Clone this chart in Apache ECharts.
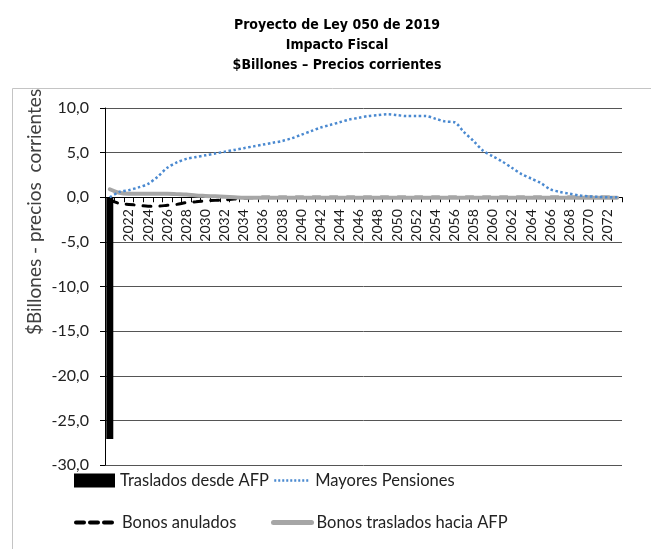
<!DOCTYPE html>
<html>
<head>
<meta charset="utf-8">
<script src="https://cdn.jsdelivr.net/npm/echarts@6/dist/echarts.min.js"></script>
<style>
  html, body { margin: 0; padding: 0; background: #fff; }
  #chart { width: 651px; height: 549px; }
</style>
</head>
<body>
<div id="chart"></div>
<script>
// years on the category axis
const years = [
  '2020', '2021', '2022', '2023', '2024', '2025', '2026', '2027', '2028', '2029',
  '2030', '2031', '2032', '2033', '2034', '2035', '2036', '2037', '2038', '2039',
  '2040', '2041', '2042', '2043', '2044', '2045', '2046', '2047', '2048', '2049',
  '2050', '2051', '2052', '2053', '2054', '2055', '2056', '2057', '2058', '2059',
  '2060', '2061', '2062', '2063', '2064', '2065', '2066', '2067', '2068', '2069',
  '2070', '2071', '2072', '2073'
];

// $ billones
const trasladosDesdeAFP = [
  -27.1, null, null, null, null, null, null, null, null, null,
  null, null, null, null, null, null, null, null, null, null,
  null, null, null, null, null, null, null, null, null, null,
  null, null, null, null, null, null, null, null, null, null,
  null, null, null, null, null, null, null, null, null, null,
  null, null, null, null
];

const mayoresPensiones = [
  0.0, 0.6, 0.8, 1.1, 1.5, 2.3, 3.3, 3.9, 4.3, 4.5,
  4.7, 4.9, 5.1, 5.3, 5.5, 5.7, 5.9, 6.1, 6.3, 6.6,
  7.0, 7.4, 7.8, 8.1, 8.4, 8.7, 8.9, 9.1, 9.2, 9.3,
  9.2, 9.1, 9.1, 9.1, 8.8, 8.5, 8.4, 7.3, 6.3, 5.2,
  4.6, 4.0, 3.3, 2.6, 2.1, 1.6, 0.9, 0.6, 0.4, 0.2,
  0.1, 0.05, 0.0, 0.0
];

const bonosAnulados = [
  -0.3, -0.7, -0.8, -0.9, -1.0, -1.0, -0.9, -0.8, -0.6, -0.5,
  -0.4, -0.35, -0.3, -0.2, -0.1, -0.05, 0, 0, 0, 0,
  0, 0, 0, 0, 0, 0, 0, 0, 0, 0,
  0, 0, 0, 0, 0, 0, 0, 0, 0, 0,
  0, 0, 0, 0, 0, 0, 0, 0, 0, 0,
  0, 0, 0, 0
];

const bonosTrasladosAFP = [
  0.9, 0.5, 0.4, 0.4, 0.4, 0.4, 0.4, 0.35, 0.3, 0.2,
  0.15, 0.1, 0.05, 0.0, -0.05, -0.05, -0.05, -0.05, -0.05, -0.05,
  -0.05, -0.05, -0.05, -0.05, -0.05, -0.05, -0.05, -0.05, -0.05, -0.05,
  -0.05, -0.05, -0.05, -0.05, -0.05, -0.05, -0.05, -0.05, -0.05, -0.05,
  -0.05, -0.05, -0.05, -0.05, -0.05, -0.05, -0.05, -0.05, -0.05, -0.05,
  -0.05, -0.05, -0.05, -0.05
];

const yTicks = { min: -30, max: 10, interval: 5 };

const FONT = 'Lato, "Open Sans", sans-serif';
const TITLE_FONT = '"Liberation Sans Narrow", "DejaVu Sans Condensed", "Liberation Sans", sans-serif';

const GRID = { left: 105, right: 29, top: 108, bottom: 84 };
const gridHeight = 549 - GRID.top - GRID.bottom;
// move the category axis up to the zero line
const zeroOffset = -gridHeight * (0 - yTicks.min) / (yTicks.max - yTicks.min);

const chart = echarts.init(document.getElementById('chart'), null, { renderer: 'canvas' });

const legendBase = {
  orient: 'horizontal',
  padding: 0,
  itemWidth: 41,
  itemHeight: 14,
  textStyle: { fontFamily: FONT, fontSize: 16.5, color: '#222' },
  selectedMode: false
};
const hideSymbol = { opacity: 0 };

chart.setOption({
  animation: false,
  backgroundColor: '#fff',
  title: {
    text: 'Proyecto de Ley 050 de 2019\nImpacto Fiscal\n$Billones – Precios corrientes',
    left: 332,
    top: 10,
    textAlign: 'center',
    textStyle: {
      fontFamily: TITLE_FONT,
      fontWeight: 'bold',
      fontSize: 14,
      lineHeight: 20,
      color: '#000'
    }
  },
  graphic: [
    {
      type: 'rect',
      silent: true,
      shape: { x: 12.5, y: 88.5, width: 700, height: 500 },
      style: { fill: 'none', stroke: '#c4c4c4', lineWidth: 1 }
    },
    {
      type: 'text',
      silent: true,
      x: 35,
      y: 212,
      rotation: Math.PI / 2,
      style: {
        text: '$Billones - precios  corrientes',
        font: '19px ' + FONT,
        fill: '#404040',
        align: 'center',
        verticalAlign: 'middle'
      }
    }
  ],
  legend: [
    Object.assign({}, legendBase, {
      left: 74, top: 472,
      data: [{ name: 'Traslados desde AFP', icon: 'rect' }]
    }),
    Object.assign({}, legendBase, {
      left: 273, top: 472,
      itemWidth: 36,
      itemStyle: hideSymbol,
      lineStyle: { width: 2.5, type: [2, 2] },
      data: ['Mayores Pensiones']
    }),
    Object.assign({}, legendBase, {
      left: 74, top: 514,
      itemStyle: hideSymbol,
      lineStyle: { width: 4, type: [8, 6], cap: 'round' },
      data: ['Bonos anulados']
    }),
    Object.assign({}, legendBase, {
      left: 271, top: 514,
      itemWidth: 38,
      itemStyle: hideSymbol,
      lineStyle: { width: 5, cap: 'round' },
      data: ['Bonos traslados hacia AFP']
    })
  ],
  grid: Object.assign({ containLabel: false }, GRID),
  xAxis: {
    type: 'category',
    data: years,
    boundaryGap: true,
    position: 'bottom',
    offset: zeroOffset,
    axisLine: { onZero: false, lineStyle: { color: '#000', width: 1 } },
    axisTick: { show: true, interval: 0, length: 5, inside: false, lineStyle: { color: '#000' } },
    axisLabel: {
      // first label sits under the big bar
      interval: (i) => i > 0 && i % 2 === 0,
      rotate: 90,
      margin: 12,
      fontFamily: FONT,
      fontSize: 14,
      color: '#1a1a1a'
    },
    splitLine: { show: false }
  },
  yAxis: {
    type: 'value',
    min: yTicks.min,
    max: yTicks.max,
    interval: yTicks.interval,
    axisLine: { show: true, lineStyle: { color: '#000', width: 1 } },
    axisTick: { show: true, length: 5, lineStyle: { color: '#000' } },
    axisLabel: {
      margin: 16,
      fontFamily: FONT,
      fontSize: 16,
      color: '#222',
      formatter: v => v.toFixed(1).replace('.', ',')
    },
    splitLine: { show: true, lineStyle: { color: '#555', width: 1 } }
  },
  series: [
    {
      name: 'Traslados desde AFP',
      type: 'bar',
      data: trasladosDesdeAFP,
      barWidth: 7,
      itemStyle: { color: '#000' },
      z: 2
    },
    {
      name: 'Bonos anulados',
      type: 'line',
      data: bonosAnulados,
      symbol: 'none',
      smooth: 0.3,
      lineStyle: { color: '#000', width: 3, type: [8, 9], cap: 'round' },
      itemStyle: { color: '#000' },
      z: 3
    },
    {
      name: 'Bonos traslados hacia AFP',
      type: 'line',
      data: bonosTrasladosAFP,
      symbol: 'none',
      smooth: 0.3,
      lineStyle: { color: '#a6a6a6', width: 4, cap: 'round' },
      itemStyle: { color: '#a6a6a6' },
      z: 4
    },
    {
      name: 'Mayores Pensiones',
      type: 'line',
      data: mayoresPensiones,
      symbol: 'none',
      smooth: 0.3,
      lineStyle: { color: '#4a89d0', width: 2.5, type: [2.5, 2.5] },
      itemStyle: { color: '#4a89d0' },
      z: 5
    }
  ]
});
</script>
</body>
</html>
